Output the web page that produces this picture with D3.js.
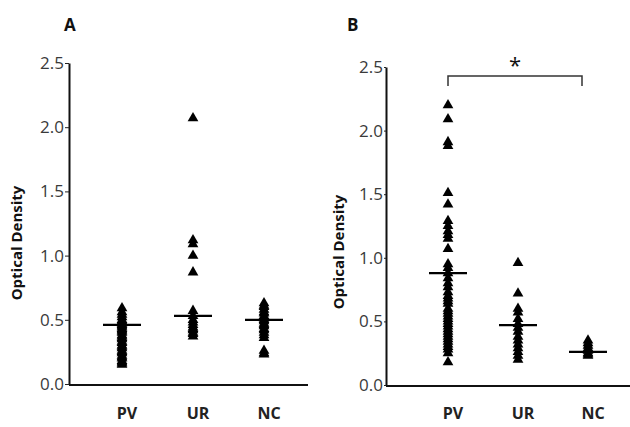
<!DOCTYPE html>
<html>
  <head>
    <meta charset="UTF-8" />
    <title>Optical Density</title>
    <style>
      body { margin: 0; background: #fff; }
      text { font-family: "Open Sans", "DejaVu Sans", sans-serif; }
    </style>
    <script src="https://d3js.org/d3.v7.min.js"></script>
  </head>
  <body>
    <svg id="viz" width="630" height="427"></svg>
    <script>
      // categories and tick labels
      var groups = ["PV", "UR", "NC"];
      var yTicks = [0, 0.5, 1.0, 1.5, 2.0, 2.5];

      // panel A values
      var aPV = [0.59, 0.56, 0.54, 0.52, 0.5, 0.49, 0.48, 0.47, 0.46, 0.45, 0.44, 0.43, 0.42, 0.41, 0.4, 0.38, 0.37, 0.36, 0.35, 0.33, 0.32, 0.3, 0.29, 0.28, 0.26, 0.25, 0.24, 0.22, 0.21, 0.2, 0.18, 0.17, 0.16, 0.15];
      var aUR = [2.07, 1.12, 1.09, 1.0, 0.87, 0.57, 0.53, 0.5, 0.48, 0.46, 0.44, 0.43, 0.42, 0.4, 0.39, 0.37];
      var aNC = [0.63, 0.61, 0.6, 0.58, 0.56, 0.55, 0.53, 0.51, 0.5, 0.49, 0.47, 0.46, 0.45, 0.43, 0.42, 0.4, 0.38, 0.36, 0.26, 0.24, 0.23];
      var aMedian = [0.46, 0.53, 0.5];

      // panel B values
      var bPV = [2.2, 2.09, 1.91, 1.88, 1.51, 1.42, 1.29, 1.25, 1.21, 1.18, 1.15, 1.07, 0.95, 0.92, 0.88, 0.84, 0.8, 0.77, 0.73, 0.7, 0.68, 0.66, 0.64, 0.6, 0.58, 0.56, 0.54, 0.52, 0.5, 0.48, 0.46, 0.44, 0.42, 0.4, 0.38, 0.36, 0.34, 0.32, 0.3, 0.28, 0.25, 0.18];
      var bUR = [0.96, 0.72, 0.6, 0.57, 0.52, 0.48, 0.45, 0.42, 0.38, 0.35, 0.32, 0.29, 0.26, 0.23, 0.2];
      var bNC = [0.35, 0.33, 0.31, 0.29, 0.27, 0.25, 0.24, 0.23];
      var bMedian = [0.88, 0.47, 0.26];

      var svg = d3.select("#viz");

      function drawPanel(p) {
        var y = d3.scaleLinear().domain([0, 2.5]).range([p.y0, p.yTop]);
        var x = d3.scalePoint().domain(groups).range(p.xRange);
        var g = svg.append("g");

        // y axis
        var yAxis = g.append("g")
          .attr("transform", "translate(" + p.axisX + ",0)")
          .call(d3.axisLeft(y).tickValues(yTicks).tickFormat(d3.format(".1f"))
            .tickSize(p.tickLen).tickSizeOuter(0).tickPadding(1));
        yAxis.select(".domain").attr("stroke", "#111").attr("stroke-width", 2);
        yAxis.selectAll(".tick line").attr("stroke", "#222").attr("stroke-width", 1);
        yAxis.selectAll(".tick text").attr("font-size", 17).attr("fill", "#3a3a3a")
          .attr("font-family", "'Open Sans', sans-serif");

        // x axis line
        g.append("line")
          .attr("x1", p.axisX).attr("x2", p.xEnd)
          .attr("y1", y(0) + 1).attr("y2", y(0) + 1)
          .attr("stroke", "#111").attr("stroke-width", 2);

        // category labels
        g.selectAll("text.cat").data(groups).enter().append("text")
          .attr("class", "cat")
          .attr("x", function (d) { return x(d) + 5; })
          .attr("y", 419)
          .attr("text-anchor", "middle")
          .attr("font-size", 16).attr("font-weight", "bold").attr("fill", "#222")
          .text(function (d) { return d; });

        // y label
        g.append("text")
          .attr("transform", "translate(" + p.labelX + "," + p.labelY + ") rotate(-90)")
          .attr("text-anchor", "middle")
          .attr("font-size", 15).attr("font-weight", "bold").attr("fill", "#111")
          .text("Optical Density");

        // panel letter
        g.append("text")
          .attr("x", p.letterX).attr("y", 31)
          .attr("font-size", 17).attr("font-weight", "bold").attr("fill", "#111")
          .text(p.letter);

        // points
        var tri = d3.symbol().type(d3.symbolTriangle).size(50);
        groups.forEach(function (grp, i) {
          g.selectAll(null).data(p.values[i]).enter().append("path")
            .attr("d", tri)
            .attr("fill", "#000")
            .attr("transform", function (d) {
              return "translate(" + x(grp) + "," + y(d) + ")";
            });
        });

        // median lines
        g.selectAll("line.med").data(p.medians).enter().append("line")
          .attr("class", "med")
          .attr("x1", function (d, i) { return x(groups[i]) - 19; })
          .attr("x2", function (d, i) { return x(groups[i]) + 19; })
          .attr("y1", function (d) { return y(d); })
          .attr("y2", function (d) { return y(d); })
          .attr("stroke", "#000").attr("stroke-width", 2.2);

        return { x: x, y: y, g: g };
      }

      drawPanel({
        letter: "A", letterX: 64,
        values: [aPV, aUR, aNC], medians: aMedian,
        axisX: 69, xEnd: 308, y0: 384, yTop: 63,
        xRange: [122, 264], tickLen: 4,
        labelX: 22, labelY: 243
      });

      var pB = drawPanel({
        letter: "B", letterX: 347,
        values: [bPV, bUR, bNC], medians: bMedian,
        axisX: 386, xEnd: 630, y0: 385, yTop: 67,
        xRange: [448, 588], tickLen: 2,
        labelX: 344, labelY: 252
      });

      // significance bracket PV vs NC
      var bx1 = pB.x("PV"), bx2 = pB.x("NC") - 6, by = 76;
      pB.g.append("path")
        .attr("d", "M" + bx1 + "," + (by + 10) + "V" + by + "H" + bx2 + "V" + (by + 10))
        .attr("fill", "none").attr("stroke", "#333").attr("stroke-width", 1.5);
      pB.g.append("text")
        .attr("x", (bx1 + bx2) / 2).attr("y", 73)
        .attr("text-anchor", "middle")
        .attr("font-size", 22).attr("fill", "#111")
        .text("*");
    </script>
  </body>
</html>
